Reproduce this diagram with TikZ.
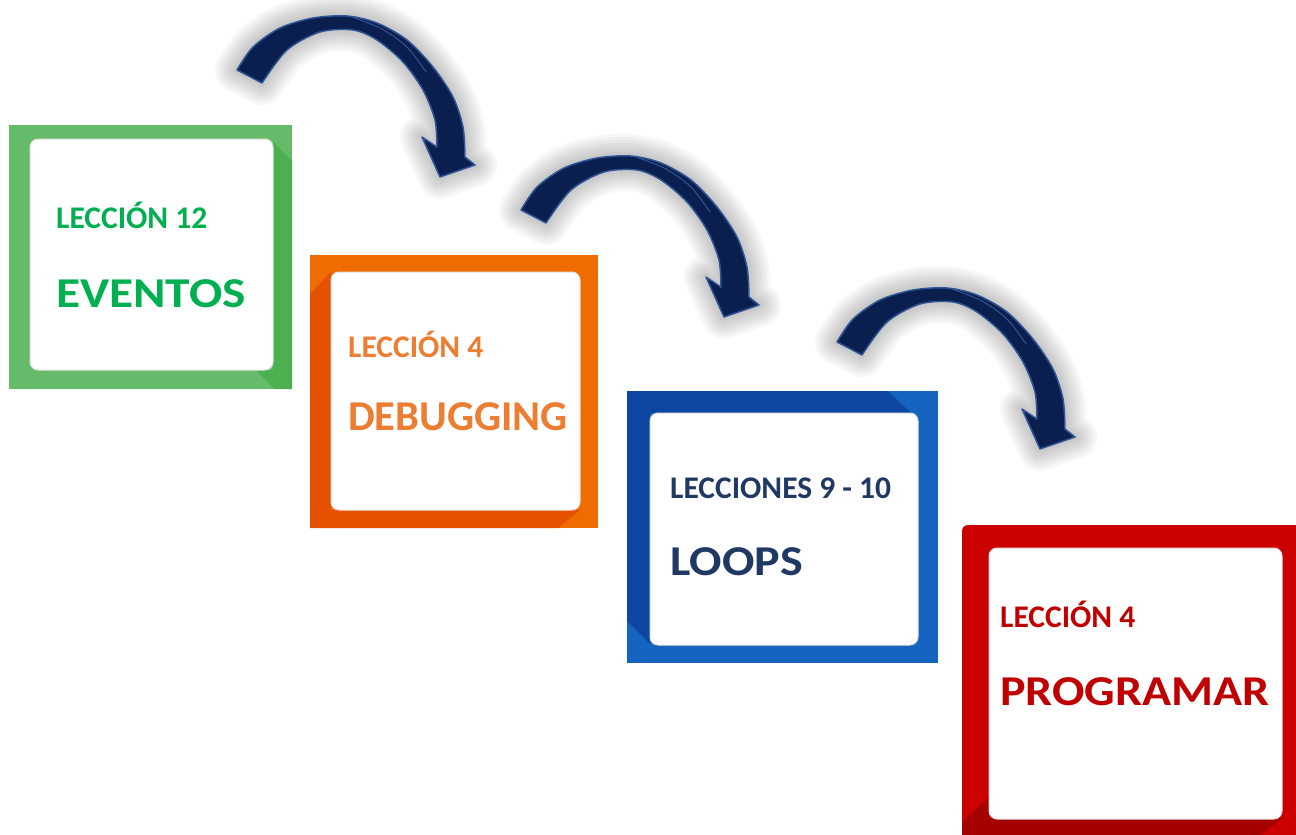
\documentclass[tikz,border=0pt]{standalone}
\usepackage{fontspec}
\usepackage{graphicx}
\setmainfont{Carlito}
\definecolor{gbase}{HTML}{66BB6A}\definecolor{gdark}{HTML}{4CAF50}\definecolor{gtext}{HTML}{00B050}
\definecolor{obase}{HTML}{EF6C00}\definecolor{odark}{HTML}{E65100}\definecolor{otext}{HTML}{ED7D31}
\definecolor{bbase}{HTML}{1565C0}\definecolor{bdark}{HTML}{0D47A1}\definecolor{btext}{HTML}{1F3864}
\definecolor{rbase}{HTML}{CC0000}\definecolor{rdark}{HTML}{A50000}\definecolor{rtext}{HTML}{C00000}
\definecolor{arrfill}{HTML}{0B1F4E}\definecolor{arredge}{HTML}{2F5597}
\begin{document}
\begin{tikzpicture}[x=1pt,y=-1pt,
  small/.style={inner sep=0pt, anchor=base west, font=\fontsize{31.5}{36}\selectfont\bfseries},
  big/.style={inner sep=0pt, anchor=base west, font=\fontsize{42.5}{48}\selectfont\bfseries},
  innerbox/.style={fill=white, draw=black!12, line width=1pt, rounded corners=8pt},
  glow/.style={draw=black, opacity=0.03, line join=round, line width=#1},
  curvearrow/.pic={
    \foreach \w in {44pt,38pt,32pt,26pt,20pt,14pt,8pt}{
      \path[glow=\w] plot[smooth] coordinates {(237,70) (253,47) (280,28) (313,18) (347,16) (377,23) (407,40) (433,67) (453,97) (463,127) (465,157)}
        -- (475,165) -- (440,177) -- (422,137) -- (437,147)
        -- plot[smooth] coordinates {(437,147) (435,120) (423,90) (403,62) (377,40) (353,30) (320,32) (287,50) (262,83)} -- cycle;
    }
    \filldraw[fill=arrfill, draw=arredge, line width=1.5pt, line join=round]
      plot[smooth] coordinates {(237,70) (253,47) (280,28) (313,18) (347,16) (377,23) (407,40) (433,67) (453,97) (463,127) (465,157)}
        -- (475,165) -- (440,177) -- (422,137) -- (437,147)
        -- plot[smooth] coordinates {(437,147) (435,120) (423,90) (403,62) (377,40) (353,30) (320,32) (287,50) (262,83)} -- cycle;
    \draw[arredge, line width=1pt] plot[smooth] coordinates {(352,17) (382,29) (407,47) (426,72)};
  }]
\useasboundingbox (0,0) rectangle (1296,835);
\fill[white] (0,0) rectangle (1296,835);

% arrows
\pic (arrA) at (0,0) {curvearrow};
\pic (arrB) at (284,140) {curvearrow};
\pic (arrC) at (600,272) {curvearrow};

% green box
\fill[gbase] (9,125) rectangle (292,389);
\fill[gdark] (273,142) -- (292,161) -- (292,389) -- (275,389) -- (256,370) -- (273,370) -- cycle;
\path[innerbox] (30,139) rectangle (273,370);
\node[small, text=gtext] (g1) at (56,228) {LECCIÓN 12};
\node[big, text=gtext] (g2) at (56,307) {\scalebox{1.16}[1]{EVENTOS}};

% orange box
\fill[obase] (310,255) rectangle (598,528);
\fill[odark] (331,272) -- (310,294) -- (310,528) -- (558,528) -- (580,510) -- (331,510) -- cycle;
\path[innerbox] (331,272) rectangle (580,510);
\node[small, text=otext] (o1) at (348,357) {LECCIÓN 4};
\node[big, text=otext] (o2) at (348,430) {DEBUGGING};

% blue box
\fill[bbase] (627,391) rectangle (938,663);
\fill[bdark] (627,391) -- (888,391) -- (911,413) -- (650,413) -- (650,644) -- (627,621) -- cycle;
\path[innerbox] (650,413) rectangle (918,645);
\node[small, text=btext] (b1) at (670,498) {LECCIONES 9 - 10};
\node[big, text=btext] (b2) at (670,575) {\scalebox{1.13}[1]{LOOPS}};

% red box
\fill[rbase] (962,835) -- (962,531) arc[start angle=180, end angle=270, radius=6] -- (1296,525) -- (1296,835) -- cycle;
\fill[rdark] (989,797) -- (962,822) -- (962,835) -- (1261,835) -- (1282,818) -- (989,818) -- cycle;
\path[innerbox] (989,548) rectangle (1282,819);
\node[small, text=rtext] (r1) at (1000,627) {LECCIÓN 4};
\node[big, text=rtext] (r2) at (1000,705) {\scalebox{1.13}[1]{PROGRAMAR}};
\end{tikzpicture}
\end{document}
